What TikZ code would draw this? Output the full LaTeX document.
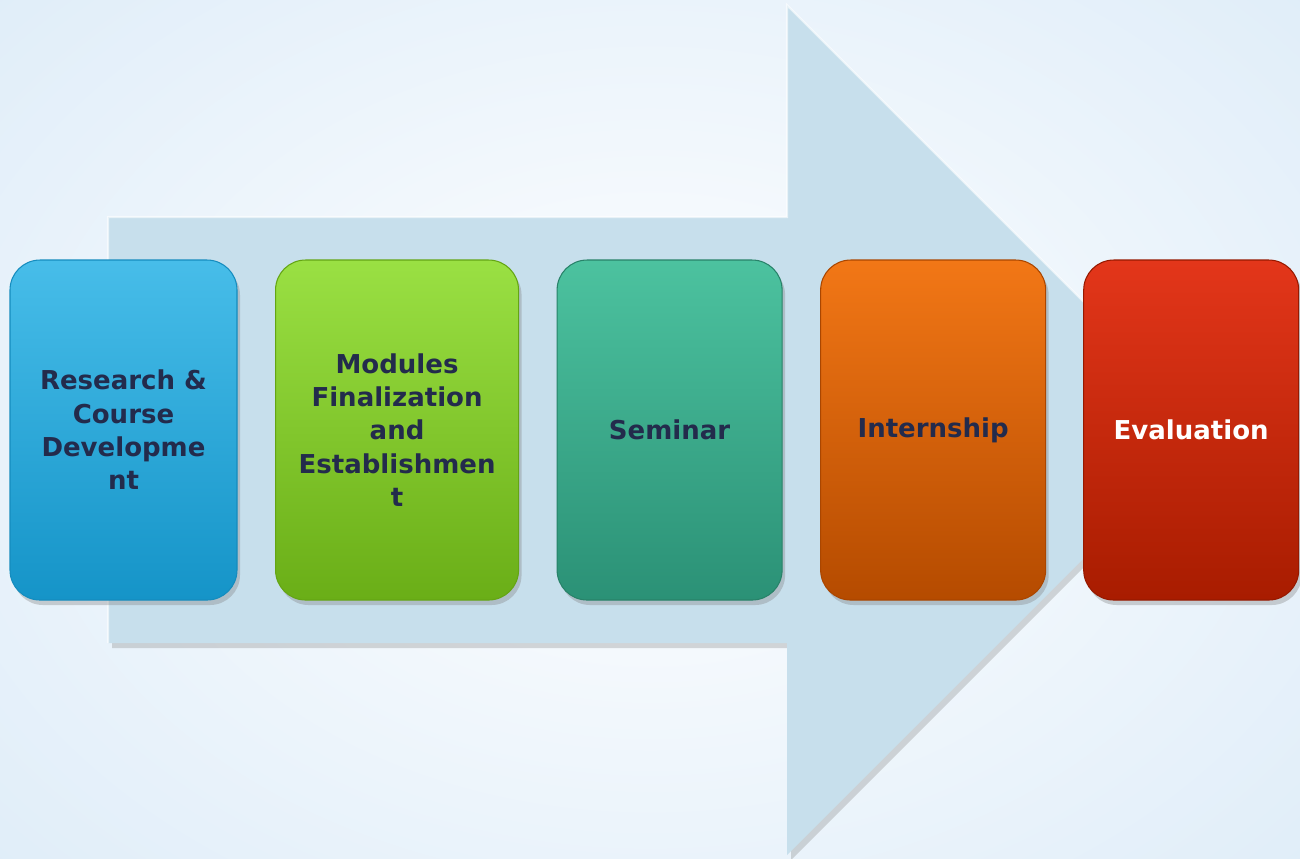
\documentclass[tikz,border=0pt]{standalone}
\usepackage{fontspec}
\setmainfont{DejaVu Sans}
\usetikzlibrary{positioning, shadows}

\definecolor{bgblue}{HTML}{D3E6F6}
\definecolor{arrowblue}{HTML}{C7DFEC}
\definecolor{navy}{HTML}{232B4C}

\tikzset{
  stage/.style={rectangle, rounded corners=3mm, minimum height=34mm, inner sep=0pt,
    align=center, text=navy, font=\bfseries\fontsize{7.4}{9.5}\selectfont,
    line width=0.3pt,
    drop shadow={opacity=0.35, shadow xshift=0.3mm, shadow yshift=-0.5mm}},
}

\begin{document}
\begin{tikzpicture}[x=0.1mm, y=-0.1mm]
      \useasboundingbox (0,0) rectangle (1300,858);
      \shade[inner color=white, outer color=bgblue!80!white] (-350,-300) rectangle (1650,1158);

      % big arrow behind the stages
      \fill[arrowblue, drop shadow={opacity=0.3, shadow xshift=0.4mm, shadow yshift=-0.5mm}]
        (108,217) -- (787,217) -- (787,5) -- (1212,430) -- (787,855) -- (787,643) -- (108,643) -- cycle;
      \draw[white, opacity=0.6, line width=0.6pt] (108,643) -- (108,217) -- (787,217) -- (787,5) -- (1212,430);

      \node[stage, minimum width=22.7mm,
            top color={rgb,255:red,71;green,189;blue,233}, bottom color={rgb,255:red,21;green,148;blue,200},
            draw={rgb,255:red,21;green,140;blue,190}]
        (s1) at (123.5,430) {Research \&\\Course\\Developme\\nt};
      \node[stage, minimum width=24.3mm, right=3.75mm of s1,
            top color={rgb,255:red,154;green,224;blue,67}, bottom color={rgb,255:red,106;green,174;blue,23},
            draw={rgb,255:red,100;green,165;blue,20}]
        (s2) {Modules\\Finalization\\and\\Establishmen\\t};
      \node[stage, minimum width=22.5mm, right=3.75mm of s2,
            top color={rgb,255:red,76;green,194;blue,159}, bottom color={rgb,255:red,43;green,145;blue,118},
            draw={rgb,255:red,40;green,130;blue,105}]
        (s3) {Seminar};
      \node[stage, minimum width=22.5mm, right=3.75mm of s3,
            top color={rgb,255:red,242;green,119;blue,22}, bottom color={rgb,255:red,181;green,75;blue,0},
            draw={rgb,255:red,170;green,70;blue,0}]
        (s4) {Internship};
      \node[stage, minimum width=21.5mm, right=3.7mm of s4, text=white,
            top color={rgb,255:red,227;green,54;blue,26}, bottom color={rgb,255:red,168;green,28;blue,0},
            draw={rgb,255:red,150;green,25;blue,0}]
        (s5) {Evaluation};

\end{tikzpicture}
\end{document}
